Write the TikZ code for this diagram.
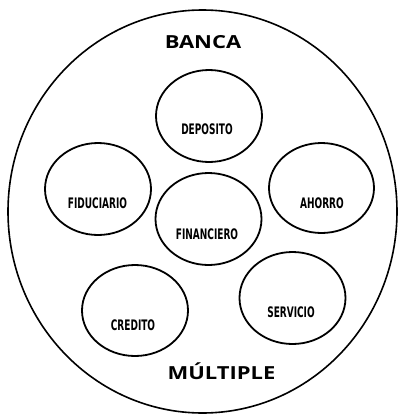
\documentclass[tikz,border=0pt]{standalone}
\usepackage{fontspec}
\setmainfont{DejaVu Sans}
\newfontfamily\titlefont{Open Sans}
\begin{document}
\begin{tikzpicture}[x=1pt,y=-1pt,
  outer/.style={draw=black,line width=1.6pt},
  bubble/.style={draw=black,line width=1.8pt},
  lbl/.style={font=\fontsize{14.5}{14.5}\selectfont\bfseries,xscale=0.62,inner sep=0pt},
  ttl/.style={font=\titlefont\fontsize{18}{18}\selectfont\bfseries,xscale=1.22,inner sep=0pt}]
\useasboundingbox (0,0) rectangle (400,416);
\draw[outer] (202.5,211.5) ellipse [x radius=194.5, y radius=201.5];
\draw[bubble] (209,116) ellipse [x radius=53, y radius=46];
\draw[bubble] (98,189) ellipse [x radius=53, y radius=46];
\draw[bubble] (321.5,188) ellipse [x radius=52.5, y radius=45];
\draw[bubble] (208.5,219) ellipse [x radius=53, y radius=46];
\draw[bubble] (135,310.5) ellipse [x radius=53, y radius=45.5];
\draw[bubble] (292.5,298) ellipse [x radius=53, y radius=46];
\node[ttl] (banca) at (203,42.5) {BANCA};
\node[ttl] (multiple) at (221.5,371) {MÚLTIPLE};
\node[lbl] (deposito) at (207,129.5) {DEPOSITO};
\node[lbl] (fiduciario) at (97.5,203) {FIDUCIARIO};
\node[lbl] (ahorro) at (322,203) {AHORRO};
\node[lbl] (financiero) at (207,234) {FINANCIERO};
\node[lbl] (credito) at (133,325) {CREDITO};
\node[lbl] (servicio) at (291,312.5) {SERVICIO};
\end{tikzpicture}
\end{document}
